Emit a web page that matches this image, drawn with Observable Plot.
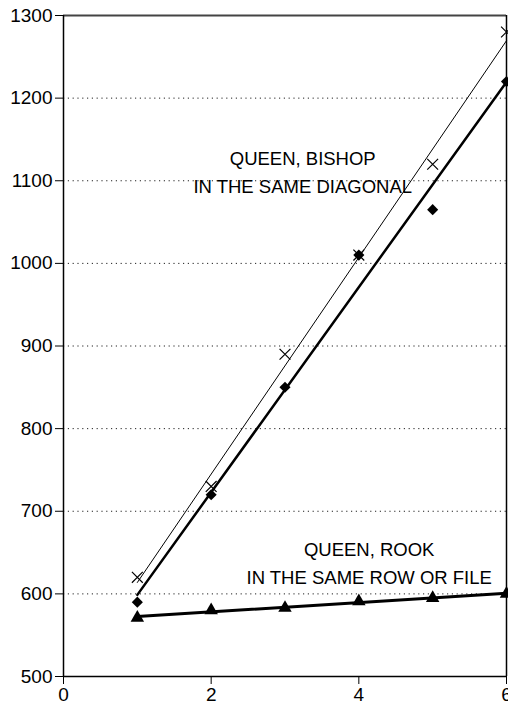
<!DOCTYPE html>
<html>
<head>
<meta charset="utf-8">
<script src="https://cdn.jsdelivr.net/npm/d3@7"></script>
<script src="https://cdn.jsdelivr.net/npm/@observablehq/plot@0.6"></script>
<style>
  html, body { margin: 0; padding: 0; background: #fff; }
  #chart svg { display: block; }
</style>
</head>
<body>
<div id="chart"></div>
<script>
// Data
const pieces = [1, 2, 3, 4, 5, 6];
const bishopCross = [620, 730, 890, 1010, 1120, 1280];
const bishopDiamond = [590, 720, 850, 1010, 1065, 1220];
const rookTriangle = [571, 580, 583, 591, 595, 600];
const xTicks = [0, 2, 4, 6];
const yTicks = [500, 600, 700, 800, 900, 1000, 1100, 1200, 1300];
const gridTicks = [600, 700, 800, 900, 1000, 1100, 1200];
const labels = ["QUEEN, BISHOP\nIN THE SAME DIAGONAL", "QUEEN, ROOK\nIN THE SAME ROW OR FILE"];
const labelX = [3.24, 4.14];
const labelY = [1112.5, 639.5];

const cross = pieces.map((x, i) => ({x, y: bishopCross[i]}));
const diamond = pieces.map((x, i) => ({x, y: bishopDiamond[i]}));
const tri = pieces.map((x, i) => ({x, y: rookTriangle[i]}));
const labelData = labels.map((t, i) => ({t, x: labelX[i], y: labelY[i]}));

const chart = Plot.plot({
  width: 508,
  height: 707,
  marginLeft: 63,
  marginRight: 2,
  marginTop: 15,
  marginBottom: 31,
  style: {fontFamily: "'Liberation Sans', Arial, sans-serif", fontSize: "18px", background: "#fff", color: "#000"},
  x: {domain: [0, 6]},
  y: {domain: [500, 1300]},
  marks: [
    Plot.gridY(gridTicks, {stroke: "#222", strokeOpacity: 1, strokeDasharray: "1.2,3.6", strokeWidth: 1}),
    Plot.axisY(yTicks, {tickSize: 8, tickPadding: 3, fontSize: 19, tickFormat: d => String(d), stroke: "#000", label: null}),
    Plot.axisX(xTicks, {tickSize: 8, tickPadding: 3, fontSize: 19, tickFormat: d => String(d), stroke: "#000", label: null}),
    Plot.ruleY([1300], {stroke: "#444", strokeWidth: 2}),
    Plot.ruleX([6], {stroke: "#000", strokeWidth: 1.5}),
    Plot.ruleX([0], {stroke: "#000", strokeWidth: 1.5}),
    Plot.ruleY([500], {stroke: "#000", strokeWidth: 1.5}),
    Plot.linearRegressionY(cross, {x: "x", y: "y", ci: 0, stroke: "#000", strokeWidth: 1}),
    Plot.linearRegressionY(diamond, {x: "x", y: "y", ci: 0, stroke: "#000", strokeWidth: 2.5}),
    Plot.linearRegressionY(tri, {x: "x", y: "y", ci: 0, stroke: "#000", strokeWidth: 3}),
    Plot.dot(cross, {x: "x", y: "y", symbol: "times", r: 5, stroke: "#000", strokeWidth: 1.2}),
    Plot.dot(diamond, {x: "x", y: "y", symbol: "diamond2", r: 5, fill: "#000", stroke: "none"}),
    Plot.dot(tri, {x: "x", y: "y", symbol: "triangle", r: 5, fill: "#000", stroke: "none"}),
    Plot.text(labelData, {x: "x", y: "y", text: "t", fontSize: 18.5, lineHeight: 1.5, textAnchor: "middle", fill: "#000"})
  ]
});
document.getElementById("chart").appendChild(chart);
</script>
</body>
</html>
